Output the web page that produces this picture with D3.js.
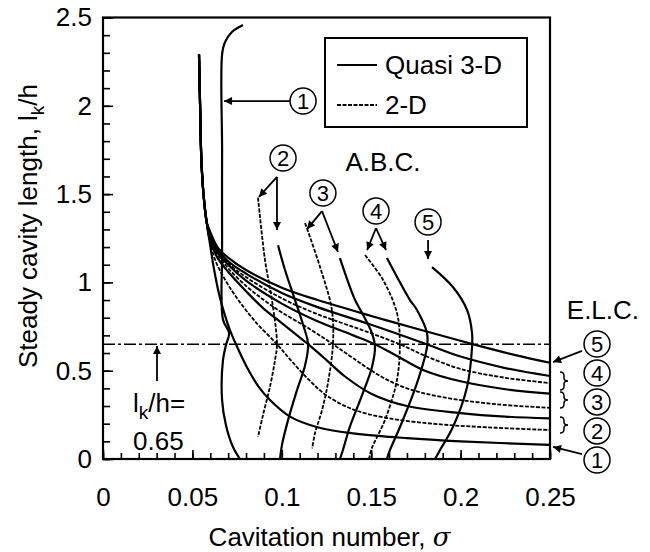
<!DOCTYPE html>
<html><head><meta charset="utf-8">
<script src="https://cdn.jsdelivr.net/npm/d3@7"></script>
<style>
body{margin:0;background:#fff}
text{font-family:"Liberation Sans",Arial,sans-serif;fill:#000}
</style>
</head><body>
<svg id="c" width="650" height="552"></svg>
<script>
// ---------- data ----------
const xTicks = [0, 0.05, 0.1, 0.15, 0.2, 0.25];
const xTickLabels = ["0", "0.05", "0.1", "0.15", "0.2", "0.25"];
const yTicks = [0, 0.5, 1, 1.5, 2, 2.5];
const yTickLabels = ["0", "0.5", "1", "1.5", "2", "2.5"];
const xLabel = "Cavitation number, ";
const yLabel = "Steady cavity length, l";
const legendLabels = ["Quasi 3-D", "2-D"];
const criticalLength = 0.65;

// ELC curves (equilibrium cavity length), [sigma, lk/h]
const elcHead = [[0.0537,2.29],[0.0543,2.0],[0.055,1.7],[0.0562,1.5],[0.058,1.34]];
const elc1s = [[0.0598,1.22],[0.062,1.08],[0.065,0.93],[0.068,0.82],[0.071,0.73],[0.0766,0.6],[0.0805,0.52],[0.087,0.41],[0.0934,0.334],[0.1046,0.24],[0.12,0.18],[0.14,0.145],[0.17,0.118],[0.2,0.1],[0.25,0.08]];
const elc2d = [[0.0598,1.23],[0.063,1.12],[0.068,1.02],[0.075,0.91],[0.085,0.78],[0.0973,0.65],[0.105,0.56],[0.115,0.45],[0.125,0.36],[0.14,0.28],[0.16,0.23],[0.19,0.195],[0.22,0.177],[0.25,0.164]];
const elc2s = [[0.0598,1.24],[0.064,1.14],[0.07,1.06],[0.08,0.95],[0.09,0.85],[0.1,0.77],[0.1147,0.65],[0.125,0.56],[0.135,0.47],[0.15,0.37],[0.17,0.3],[0.2,0.26],[0.225,0.24],[0.25,0.23]];
const elc3d = [[0.0598,1.25],[0.064,1.16],[0.07,1.08],[0.08,0.98],[0.09,0.9],[0.1,0.83],[0.115,0.74],[0.1286,0.65],[0.14,0.57],[0.155,0.47],[0.17,0.4],[0.19,0.35],[0.22,0.31],[0.25,0.29]];
const elc3s = [[0.0598,1.26],[0.064,1.17],[0.07,1.1],[0.08,1.01],[0.1,0.88],[0.12,0.78],[0.14,0.7],[0.152,0.65],[0.165,0.58],[0.18,0.5],[0.2,0.44],[0.225,0.395],[0.25,0.37]];
const elc4d = [[0.0598,1.27],[0.064,1.18],[0.07,1.11],[0.08,1.03],[0.1,0.91],[0.12,0.82],[0.145,0.73],[0.166,0.65],[0.18,0.585],[0.2,0.51],[0.225,0.46],[0.25,0.43]];
const elc4s = [[0.0598,1.28],[0.064,1.19],[0.07,1.12],[0.08,1.05],[0.1,0.94],[0.12,0.86],[0.15,0.76],[0.181,0.65],[0.2,0.58],[0.225,0.515],[0.25,0.47]];
const elc5s = [[0.0598,1.29],[0.064,1.2],[0.07,1.14],[0.08,1.07],[0.1,0.97],[0.12,0.9],[0.15,0.81],[0.18,0.725],[0.207,0.65],[0.23,0.59],[0.25,0.545]];

// ABC curves (attached-cavity boundary), [sigma, lk/h]
const abc1s = [[0.0783,2.457],[0.0721,2.418],[0.0682,2.36],[0.0666,2.29],[0.0666,1.75],[0.0666,1.18],[0.0671,0.79],[0.0705,0.713],[0.0688,0.646],[0.0671,0.56],[0.0666,0.334],[0.0688,0.19],[0.0727,0.068],[0.0766,0]];
const abc2d = [[0.0867,1.48],[0.0906,1.127],[0.0945,0.9],[0.0973,0.65],[0.0962,0.56],[0.0934,0.41],[0.0895,0.25],[0.0867,0.125]];
const abc2s = [[0.0979,1.21],[0.1018,1.07],[0.1074,0.9],[0.1119,0.76],[0.1147,0.65],[0.113,0.53],[0.1085,0.39],[0.1035,0.22],[0.1001,0.08],[0.099,0]];
const abc3d = [[0.113,1.336],[0.1214,1.087],[0.128,0.844],[0.1286,0.65],[0.1258,0.43],[0.1225,0.277],[0.1186,0.147],[0.117,0.06]];
const abc3s = [[0.1325,1.138],[0.141,0.9],[0.1449,0.827],[0.1504,0.713],[0.1521,0.634],[0.1504,0.52],[0.1449,0.362],[0.138,0.181],[0.1342,0.051],[0.1325,0]];
const abc4d = [[0.1465,1.155],[0.1566,1.014],[0.1644,0.827],[0.166,0.657],[0.1644,0.447],[0.1577,0.221],[0.1504,0.062],[0.1488,0]];
const abc4s = [[0.1588,1.138],[0.1717,0.9],[0.1756,0.844],[0.1812,0.713],[0.1812,0.634],[0.1756,0.43],[0.1661,0.181],[0.1605,0.051],[0.1588,0]];
const abc5s = [[0.184,1.087],[0.1957,0.974],[0.2036,0.844],[0.2064,0.713],[0.2064,0.634],[0.2036,0.408],[0.1957,0.181],[0.1885,0.051],[0.1857,0]];

// annotations in data units
const circleLabels = [
  {t:"1", s:0.1119, l:2.027}, {t:"2", s:0.1007, l:1.704}, {t:"3", s:0.123, l:1.506},
  {t:"4", s:0.1527, l:1.404}, {t:"5", s:0.1818, l:1.342},
  {t:"5", s:0.2763, l:0.651}, {t:"4", s:0.2763, l:0.487}, {t:"3", s:0.2763, l:0.323},
  {t:"2", s:0.2763, l:0.159}, {t:"1", s:0.2763, l:-0.006}
];
const arrows = [
  [0.1046,2.027,0.0677,2.027],
  [0.0973,1.597,0.0872,1.484],[0.0973,1.597,0.0973,1.297],
  [0.1225,1.404,0.1141,1.302],[0.1225,1.404,0.1314,1.172],
  [0.1527,1.308,0.1477,1.183],[0.1527,1.308,0.1583,1.183],
  [0.1818,1.24,0.1818,1.133],
  [0.2679,0.612,0.2517,0.549],
  [0.2679,0.028,0.2517,0.068],
  [0.0302,0.442,0.0302,0.64]
];
const braces = [[0.493,0.391],[0.379,0.289],[0.238,0.147]];
const textLabels = [
  {t:"A.B.C.", s:0.1566, l:1.631, a:"middle"},
  {t:"E.L.C.", s:0.2796, l:0.793, a:"middle"},
  {t:"0.65", s:0.0168, l:0.051, a:"start"}
];

// ---------- drawing ----------
const svg = d3.select("#c");
const x = d3.scaleLinear().domain([0, 0.25]).range([103, 550]);
const y = d3.scaleLinear().domain([0, 2.5]).range([459, 17.5]);

svg.append("defs").append("marker")
  .attr("id","ah").attr("viewBox","0 0 10 10").attr("refX",10).attr("refY",5)
  .attr("markerWidth",11).attr("markerHeight",8).attr("markerUnits","userSpaceOnUse")
  .attr("orient","auto")
  .append("path").attr("d","M0,0 L10,5 L0,10 Z").attr("fill","#000");

// axes
const minorX = d3.range(0, 0.2501, 0.01);
const minorY = d3.range(0, 2.501, 0.1);
svg.append("g").attr("transform",`translate(0,${y(0)})`)
  .call(d3.axisBottom(x).tickValues(minorX).tickSize(-6).tickFormat(""))
  .call(g=>g.select(".domain").remove())
  .selectAll("line").attr("stroke-width",1.6);
svg.append("g").attr("transform",`translate(0,${y(0)})`)
  .call(d3.axisBottom(x).tickValues(xTicks).tickSize(-9).tickPadding(29)
    .tickFormat((d,i)=>xTickLabels[i]))
  .call(g=>g.select(".domain").remove())
  .call(g=>g.selectAll("line").attr("stroke-width",1.6))
  .call(g=>g.selectAll("text").attr("font-size",26).attr("font-family","Liberation Sans, Arial, sans-serif"));
svg.append("g").attr("transform",`translate(${x(0)},0)`)
  .call(d3.axisLeft(y).tickValues(minorY).tickSize(-7).tickFormat(""))
  .call(g=>g.select(".domain").remove())
  .selectAll("line").attr("stroke-width",1.6);
svg.append("g").attr("transform",`translate(${x(0)},0)`)
  .call(d3.axisLeft(y).tickValues(yTicks).tickSize(-10).tickPadding(11)
    .tickFormat((d,i)=>yTickLabels[i]))
  .call(g=>g.select(".domain").remove())
  .call(g=>g.selectAll("line").attr("stroke-width",1.6))
  .call(g=>g.selectAll("text").attr("font-size",26).attr("font-family","Liberation Sans, Arial, sans-serif"));

// frame
svg.append("rect").attr("x",x(0)).attr("y",y(2.5)).attr("width",x(0.25)-x(0)).attr("height",y(0)-y(2.5))
  .attr("fill","none").attr("stroke","#000").attr("stroke-width",2.2);

// axis titles
const xt = svg.append("text").attr("x",(x(0)+x(0.25))/2 + 3).attr("y",546).attr("text-anchor","middle").attr("font-size",26);
xt.append("tspan").text(xLabel);
xt.append("tspan").attr("font-family","DejaVu Serif, serif").attr("font-style","italic").text("σ");
const yt = svg.append("text").attr("transform","translate(37,226) rotate(-90)").attr("text-anchor","middle").attr("font-size",26);
yt.append("tspan").text(yLabel);
yt.append("tspan").attr("font-size",19).attr("dy",7).text("k");
yt.append("tspan").attr("dy",-7).text("/h");

// critical length line
svg.append("line").attr("x1",x(0)).attr("x2",x(0.25)).attr("y1",y(criticalLength)).attr("y2",y(criticalLength))
  .attr("stroke","#000").attr("stroke-width",1.6).attr("stroke-dasharray","12,3,3,3");

// curves
const line = d3.line().x(d=>x(d[0])).y(d=>y(d[1])).curve(d3.curveCatmullRom.alpha(0.5));
const solidSeries = [elc1s, elc2s, elc3s, elc4s, elc5s].map(s=>elcHead.concat(s)).concat([abc1s, abc2s, abc3s, abc4s, abc5s]);
const dashedSeries = [elc2d, elc3d, elc4d].map(s=>elcHead.concat(s)).concat([abc2d, abc3d, abc4d]);
svg.append("g").selectAll("path").data(solidSeries).join("path")
  .attr("d",line).attr("fill","none").attr("stroke","#000").attr("stroke-width",2.2);
svg.append("g").selectAll("path").data(dashedSeries).join("path")
  .attr("d",line).attr("fill","none").attr("stroke","#000").attr("stroke-width",1.8).attr("stroke-dasharray","4,1.5");

// legend
svg.append("rect").attr("x",325).attr("y",38).attr("width",202).attr("height",89)
  .attr("fill","#fff").attr("stroke","#000").attr("stroke-width",2);
svg.append("line").attr("x1",337).attr("x2",377).attr("y1",65).attr("y2",65).attr("stroke","#000").attr("stroke-width",2.2);
svg.append("line").attr("x1",337).attr("x2",377).attr("y1",105).attr("y2",105).attr("stroke","#000").attr("stroke-width",1.8).attr("stroke-dasharray","4,1.5");
svg.append("text").attr("x",385).attr("y",74).attr("font-size",26).text(legendLabels[0]);
svg.append("text").attr("x",385).attr("y",114).attr("font-size",26).text(legendLabels[1]);

// annotations
svg.append("g").selectAll("line").data(arrows).join("line")
  .attr("x1",d=>x(d[0])).attr("y1",d=>y(d[1])).attr("x2",d=>x(d[2])).attr("y2",d=>y(d[3]))
  .attr("stroke","#000").attr("stroke-width",1.8).attr("marker-end","url(#ah)");
const cg = svg.append("g").selectAll("g").data(circleLabels).join("g")
  .attr("transform",d=>`translate(${x(d.s)},${y(d.l)})`);
cg.append("circle").attr("r",13).attr("fill","#fff").attr("stroke","#000").attr("stroke-width",1.5);
cg.append("text").attr("text-anchor","middle").attr("y",8).attr("font-size",22).text(d=>d.t);
svg.append("g").selectAll("text").data(textLabels).join("text")
  .attr("x",d=>x(d.s)).attr("y",d=>y(d.l)).attr("text-anchor",d=>d.a).attr("font-size",26).text(d=>d.t);
const lk = svg.append("text").attr("x",x(0.0168)).attr("y",y(0.266)).attr("font-size",26);
lk.append("tspan").text("l");
lk.append("tspan").attr("font-size",19).attr("dy",7).text("k");
lk.append("tspan").attr("dy",-7).text("/h=");
const bx = x(0.2556);
svg.append("g").selectAll("path").data(braces).join("path")
  .attr("d",d=>{const y1=y(d[0]), y2=y(d[1]), ym=(y1+y2)/2;
    return `M${bx},${y1} Q${bx+4},${y1} ${bx+4},${y1+4} L${bx+4},${ym-3} Q${bx+4},${ym} ${bx+8},${ym} Q${bx+4},${ym} ${bx+4},${ym+3} L${bx+4},${y2-4} Q${bx+4},${y2} ${bx},${y2}`;})
  .attr("fill","none").attr("stroke","#000").attr("stroke-width",1.5);
</script>
</body></html>
